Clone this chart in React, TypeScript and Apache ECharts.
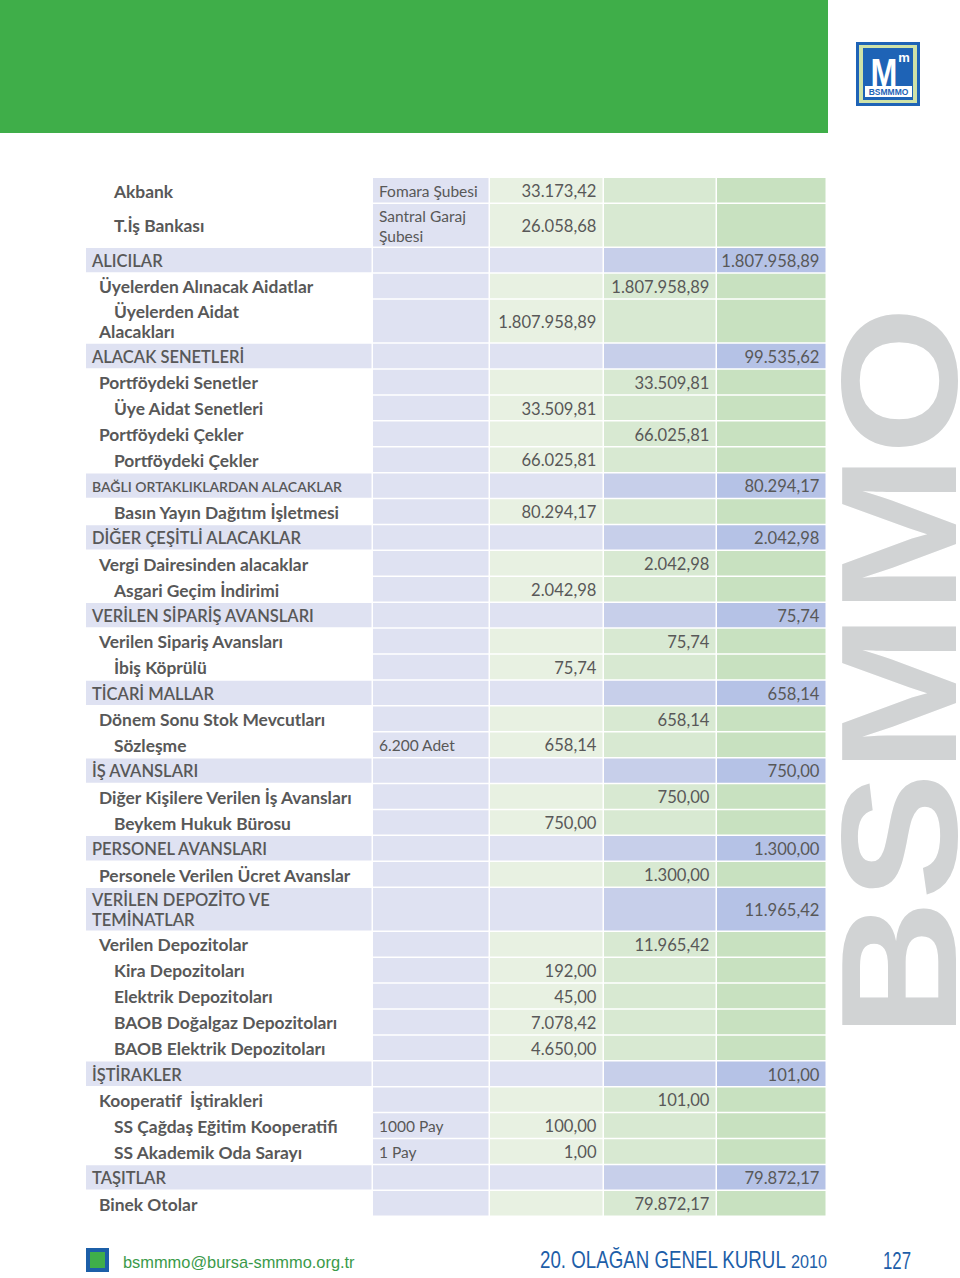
import React, { useEffect, useRef } from "react";
import * as echarts from "echarts";

// Row labels of the balance-sheet detail table
const labels: string[] = [
  "Akbank",
  "T.İş Bankası",
  "ALICILAR",
  "Üyelerden Alınacak Aidatlar",
  "Üyelerden Aidat\nAlacakları",
  "ALACAK SENETLERİ",
  "Portföydeki Senetler",
  "Üye Aidat Senetleri",
  "Portföydeki Çekler",
  "Portföydeki Çekler",
  "BAĞLI ORTAKLIKLARDAN ALACAKLAR",
  "Basın Yayın Dağıtım İşletmesi",
  "DİĞER ÇEŞİTLİ ALACAKLAR",
  "Vergi Dairesinden alacaklar",
  "Asgari Geçim İndirimi",
  "VERİLEN SİPARİŞ AVANSLARI",
  "Verilen Sipariş Avansları",
  "İbiş Köprülü",
  "TİCARİ MALLAR",
  "Dönem Sonu Stok Mevcutları",
  "Sözleşme",
  "İŞ AVANSLARI",
  "Diğer Kişilere Verilen İş Avansları",
  "Beykem Hukuk Bürosu",
  "PERSONEL AVANSLARI",
  "Personele Verilen Ücret Avanslar",
  "VERİLEN DEPOZİTO VE\nTEMİNATLAR",
  "Verilen Depozitolar",
  "Kira Depozitoları",
  "Elektrik Depozitoları",
  "BAOB Doğalgaz Depozitoları",
  "BAOB Elektrik Depozitoları",
  "İŞTİRAKLER",
  "Kooperatif  İştirakleri",
  "SS Çağdaş Eğitim Kooperatifi",
  "SS Akademik Oda Sarayı",
  "TAŞITLAR",
  "Binek Otolar",
];

// 0 = account group (header), 1 = sub account, 2 = detail, 3 = sub account with hanging first line
const levels: number[] = [
  2, 2, 0, 1, 3, 0, 1, 2, 1, 2, 0, 2, 0, 1, 2, 0, 1, 2, 0, 1, 2, 0, 1, 2, 0, 1, 0, 1, 2, 2, 2, 2, 0, 1, 2, 2, 0, 1,
];

// Row height in row units (1 = single line, 1.7 = two lines)
const rowSpans: number[] = [
  1, 1.7, 1, 1, 1.7, 1, 1, 1, 1, 1, 1, 1, 1, 1, 1, 1, 1, 1, 1, 1, 1, 1, 1, 1, 1, 1, 1.7, 1, 1, 1, 1, 1, 1, 1, 1, 1, 1, 1,
];

const notes: string[] = [
  "Fomara Şubesi", "Santral Garaj\nŞubesi", "", "", "", "", "", "", "", "", "", "", "", "", "", "", "", "", "", "", "6.200 Adet",
  "", "", "", "", "", "", "", "", "", "", "", "", "", "1000 Pay", "1 Pay", "", "",
];

const detailAmounts: string[] = [
  "33.173,42", "26.058,68", "", "", "1.807.958,89", "", "", "33.509,81", "", "66.025,81", "", "80.294,17", "", "", "2.042,98",
  "", "", "75,74", "", "", "658,14", "", "", "750,00", "", "", "", "", "192,00", "45,00", "7.078,42", "4.650,00", "", "",
  "100,00", "1,00", "", "",
];

const subAmounts: string[] = [
  "", "", "", "1.807.958,89", "", "", "33.509,81", "", "66.025,81", "", "", "", "", "2.042,98", "", "", "75,74", "", "",
  "658,14", "", "", "750,00", "", "", "1.300,00", "", "11.965,42", "", "", "", "", "", "101,00", "", "", "", "79.872,17",
];

const totalAmounts: string[] = [
  "", "", "1.807.958,89", "", "", "99.535,62", "", "", "", "", "80.294,17", "", "2.042,98", "", "", "75,74", "", "", "658,14",
  "", "", "750,00", "", "", "1.300,00", "", "11.965,42", "", "", "", "", "", "101,00", "", "", "", "79.872,17", "",
];

// Column boundaries (table width units)
const colEdges: number[] = [0, 287, 404, 518, 631, 741];

const FONT = "Lato, 'Noto Sans', sans-serif";
const TXT = "#585858";
const NARROW = "'Liberation Sans', sans-serif";

export default function App() {
  const ref = useRef<HTMLDivElement>(null);

  useEffect(() => {
    document.body.style.margin = "0";
    if (!ref.current) return;
    const chart = echarts.init(ref.current, undefined, { renderer: "svg" });

    const rowStarts: number[] = [];
    let acc = 0;
    rowSpans.forEach((s) => {
      rowStarts.push(acc);
      acc += s;
    });
    const totalRows = acc;

    const cells: number[][] = [];
    labels.forEach((_, r) => {
      for (let c = 0; c < 5; c++) cells.push([r, c]);
    });

    const fillFor = (lvl: number, c: number) => {
      if (lvl === 0) {
        if (c <= 2) return "#dfe2f2";
        if (c === 3) return "#c7cfea";
        return "#b5c2e6";
      }
      if (c === 0) return "#ffffff";
      if (c === 1) return "#dfe2f2";
      if (c === 2) return "#e8f1e2";
      if (c === 3) return "#d8e9d2";
      return "#c8e1c0";
    };

    const SUBFONT = `bold 17.4px ${FONT}`;

    const renderItem = (params: any, api: any) => {
      const r = api.value(0);
      const c = api.value(1);
      const lvl = levels[r];
      const y0 = rowStarts[r];
      const y1 = y0 + rowSpans[r];
      const p0 = api.coord([colEdges[c], y0]);
      const p1 = api.coord([colEdges[c + 1], y1]);
      const x = p0[0];
      const y = p0[1];
      const w = p1[0] - p0[0] - 1.5;
      const h = p1[1] - p0[1] - 1.5;
      const cy = y + h / 2 + 0.8;
      const children: any[] = [
        { type: "rect", shape: { x, y, width: w, height: h }, style: { fill: fillFor(lvl, c) } },
      ];
      if (c === 0) {
        const text = labels[r];
        if (lvl === 3) {
          const parts = text.split("\n");
          children.push({
            type: "text",
            style: { text: parts[0], x: x + 28, y: cy - 10, fill: TXT, font: SUBFONT, align: "left", verticalAlign: "middle" },
          });
          children.push({
            type: "text",
            style: { text: parts[1], x: x + 13, y: cy + 10, fill: TXT, font: SUBFONT, align: "left", verticalAlign: "middle" },
          });
        } else {
          const indent = lvl === 0 ? 6 : lvl === 1 ? 13 : 28;
          const small = lvl === 0 && text.length > 26 && text.indexOf("\n") < 0;
          const font = lvl === 0 ? `600 ${small ? 14 : 16.5}px ${FONT}` : SUBFONT;
          children.push({
            type: "text",
            style: { text, x: x + indent, y: cy, fill: TXT, font, align: "left", verticalAlign: "middle", lineHeight: 20 },
          });
        }
      } else if (c === 1) {
        const text = notes[r];
        if (text) {
          children.push({
            type: "text",
            style: { text, x: x + 6, y: cy, fill: TXT, font: `15.5px ${FONT}`, align: "left", verticalAlign: "middle", lineHeight: 20 },
          });
        }
      } else {
        const arr = c === 2 ? detailAmounts : c === 3 ? subAmounts : totalAmounts;
        const text = arr[r];
        if (text) {
          children.push({
            type: "text",
            style: { text, x: x + w - 6, y: cy, fill: TXT, font: `16.6px ${FONT}`, align: "right", verticalAlign: "middle" },
          });
        }
      }
      return { type: "group", children };
    };

    chart.setOption({
      animation: false,
      grid: { left: 86, top: 178, width: 741, height: 1039 },
      xAxis: { type: "value", min: 0, max: colEdges[colEdges.length - 1], show: false },
      yAxis: { type: "value", min: 0, max: totalRows, inverse: true, show: false },
      series: [
        {
          type: "custom",
          renderItem,
          data: cells,
          silent: true,
        },
      ],
      graphic: [
        { type: "rect", shape: { x: 0, y: 0, width: 828, height: 133 }, style: { fill: "#3fae49" } },
        {
          type: "group",
          x: 856,
          y: 42,
          children: [
            { type: "rect", shape: { x: 0, y: 0, width: 64, height: 64 }, style: { fill: "#1e63b6" } },
            { type: "rect", shape: { x: 3, y: 3, width: 58, height: 58 }, style: { fill: "#cfe2a8" } },
            { type: "rect", shape: { x: 7, y: 6, width: 50, height: 52 }, style: { fill: "#1e63b6" } },
            {
              type: "text",
              x: 28,
              y: 31,
              scaleX: 0.85,
              style: { text: "M", x: 0, y: 0, fill: "#ffffff", font: "bold 38px 'Liberation Sans', sans-serif", align: "center", verticalAlign: "middle", lineHeight: 26 },
            },
            {
              type: "text",
              style: { text: "m", x: 48, y: 15, fill: "#ffffff", font: "bold 13px 'Liberation Sans', sans-serif", align: "center", verticalAlign: "middle", lineHeight: 10 },
            },
            { type: "rect", shape: { x: 9, y: 44, width: 47, height: 11 }, style: { fill: "#ffffff" } },
            {
              type: "text",
              style: { text: "BSMMMO", x: 32.5, y: 50, fill: "#1e63b6", font: "bold 8.5px 'Liberation Sans', sans-serif", align: "center", verticalAlign: "middle", lineHeight: 9 },
            },
          ],
        },
        {
          type: "text",
          rotation: Math.PI / 2,
          x: 898,
          y: 672,
          scaleX: 1.15,
          style: {
            text: "BSMMO",
            x: 0,
            y: 0,
            fill: "#d1d3d4",
            font: "bold 166px 'Liberation Sans', sans-serif",
            align: "center",
            verticalAlign: "middle",
            lineHeight: 120,
          },
        },
        { type: "rect", shape: { x: 86, y: 1248, width: 23, height: 24 }, style: { fill: "#1c5fa8" } },
        { type: "rect", shape: { x: 90, y: 1252, width: 15, height: 16 }, style: { fill: "#3fae49" } },
        {
          type: "text",
          style: { text: "bsmmmo@bursa-smmmo.org.tr", x: 123, y: 1262, fill: "#3a9a4a", font: "16.4px 'Liberation Sans', sans-serif", align: "left", verticalAlign: "middle" },
        },
        {
          type: "text",
          x: 540,
          y: 1260,
          scaleX: 0.78,
          style: { text: "20. OLAĞAN GENEL KURUL", x: 0, y: 0, fill: "#1d5ea8", font: `24px ${NARROW}`, align: "left", verticalAlign: "middle" },
        },
        {
          type: "text",
          x: 791,
          y: 1262,
          scaleX: 0.85,
          style: { text: "2010", x: 0, y: 0, fill: "#1d5ea8", font: `19px ${NARROW}`, align: "left", verticalAlign: "middle" },
        },
        {
          type: "text",
          x: 883,
          y: 1260,
          scaleX: 0.7,
          style: { text: "127", x: 0, y: 0, fill: "#1d5ea8", font: `24px ${NARROW}`, align: "left", verticalAlign: "middle" },
        },
      ],
    });

    return () => chart.dispose();
  }, []);

  return <div ref={ref} style={{ width: 960, height: 1278 }} />;
}
